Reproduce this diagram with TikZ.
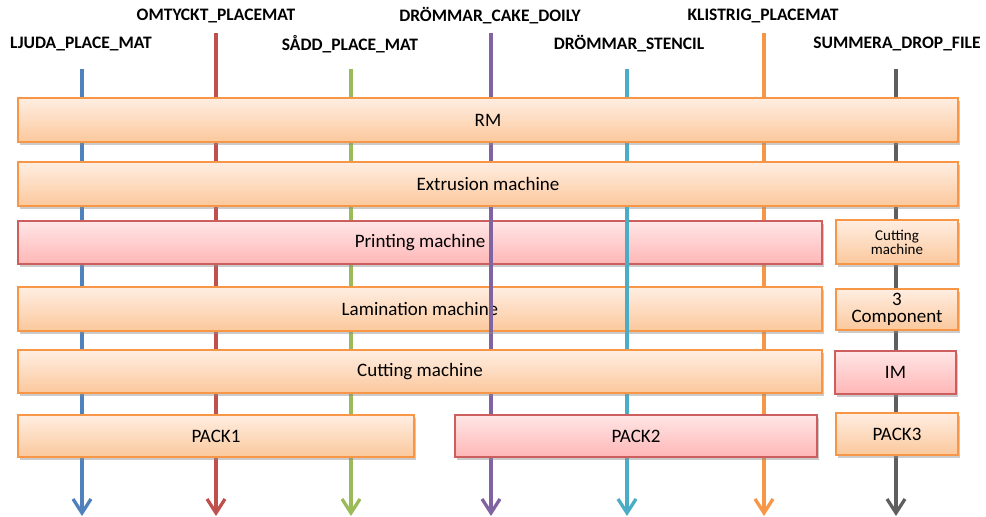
\documentclass[tikz,border=0pt]{standalone}
\usepackage{fontspec}
\setmainfont{Carlito}
\usetikzlibrary{arrows.meta,shadows}
\definecolor{cblue}{HTML}{4F81BD}
\definecolor{cred}{HTML}{C0504D}
\definecolor{cgreen}{HTML}{9BBB59}
\definecolor{cpurple}{HTML}{8064A2}
\definecolor{ccyan}{HTML}{4BACC6}
\definecolor{corange}{HTML}{F79646}
\definecolor{cgray}{HTML}{5F5F5F}
\definecolor{otop}{HTML}{FFEEE2}
\definecolor{obot}{HTML}{FBC89C}
\definecolor{ptop}{HTML}{FFE6E6}
\definecolor{pbot}{HTML}{FFB6B6}
\definecolor{pborder}{HTML}{CC5F5E}
\begin{document}
\begin{tikzpicture}[x=1pt,y=-1pt,
  flow/.style={line width=3.3pt,-{Straight Barb[length=14pt,width=18pt]}},
  lbl/.style={font=\fontsize{17.5}{17.5}\selectfont\bfseries,text=black,inner sep=0pt},
  boxbase/.style={draw,line width=1.8pt,inner sep=0pt,text=black,
     font=\fontsize{19}{19}\selectfont,
     drop shadow={shadow xshift=1.5pt,shadow yshift=-2.5pt,fill=black!45,opacity=.45}},
  obox/.style={boxbase,draw=corange,top color=otop,bottom color=obot},
  pbox/.style={boxbase,draw=pborder,top color=ptop,bottom color=pbot}]
\useasboundingbox (0,0) rectangle (986,517);

% labels
\node[lbl] (l1) at (81,44) {LJUDA\_PLACE\_MAT};
\node[lbl] (l2) at (216,16) {OMTYCKT\_PLACEMAT};
\node[lbl] (l3) at (350,44) {SÅDD\_PLACE\_MAT};
\node[lbl] (l4) at (490,16) {DRÖMMAR\_CAKE\_DOILY};
\node[lbl] (l5) at (629,44) {DRÖMMAR\_STENCIL};
\node[lbl] (l6) at (763,16) {KLISTRIG\_PLACEMAT};
\node[lbl] (l7) at (897,44) {SUMMERA\_DROP\_FILE};

% line ends
\coordinate (t1) at (82,69);  \coordinate (b1) at (82,516);
\coordinate (t2) at (216,33); \coordinate (b2) at (216,516);
\coordinate (t3) at (351,69); \coordinate (b3) at (351,516);
\coordinate (t4) at (491,33); \coordinate (b4) at (491,516);
\coordinate (t5) at (627,69); \coordinate (b5) at (627,516);
\coordinate (t6) at (764,33); \coordinate (b6) at (764,516);
\coordinate (t7) at (896,69); \coordinate (b7) at (896,516);

\draw[flow,cblue] (t1) -- (b1);
\draw[flow,cred] (t2) -- (b2);
\draw[flow,cgreen] (t3) -- (b3);
\draw[flow,cpurple] (t4) -- (b4);
\draw[flow,ccyan] (t5) -- (b5);
\draw[flow,corange] (t6) -- (b6);
\draw[flow,cgray] (t7) -- (b7);

% boxes
\node[obox,minimum width=940pt,minimum height=44pt] (rm) at (488,120) {RM};
\node[obox,minimum width=940pt,minimum height=44pt] (ext) at (488,184) {Extrusion machine};
\node[pbox,minimum width=804pt,minimum height=43pt] (prt) at (420,242.5) {Printing machine};
\node[obox,minimum width=122pt,minimum height=44pt,align=center,
      font=\fontsize{15}{12}\selectfont] (cut2) at (897,242) {Cutting\\machine};
\node[obox,minimum width=804pt,minimum height=44pt] (lam) at (420,309) {Lamination machine};
\node[obox,minimum width=122pt,minimum height=41pt,align=center,
      font=\fontsize{19}{17}\selectfont] (comp) at (897,309.5) {3\\Component};
\node[obox,minimum width=804pt,minimum height=43pt] (cut) at (420,371.5) {Cutting machine};
\node[pbox,minimum width=121pt,minimum height=43pt] (im) at (895.5,372.5) {IM};
\node[obox,minimum width=396pt,minimum height=42pt] (p1) at (216,436) {PACK1};
\node[pbox,minimum width=362pt,minimum height=42pt] (p2) at (636,436) {PACK2};
\node[obox,minimum width=122pt,minimum height=42pt] (p3) at (897,434) {PACK3};

% segments drawn over the printing and lamination boxes
\draw[line width=3.3pt,cpurple] (ext.south -| t4) -- (lam.south -| t4);
\draw[line width=3.3pt,ccyan] (ext.south -| t5) -- ([yshift=-4pt]lam.south -| t5);
\end{tikzpicture}
\end{document}
